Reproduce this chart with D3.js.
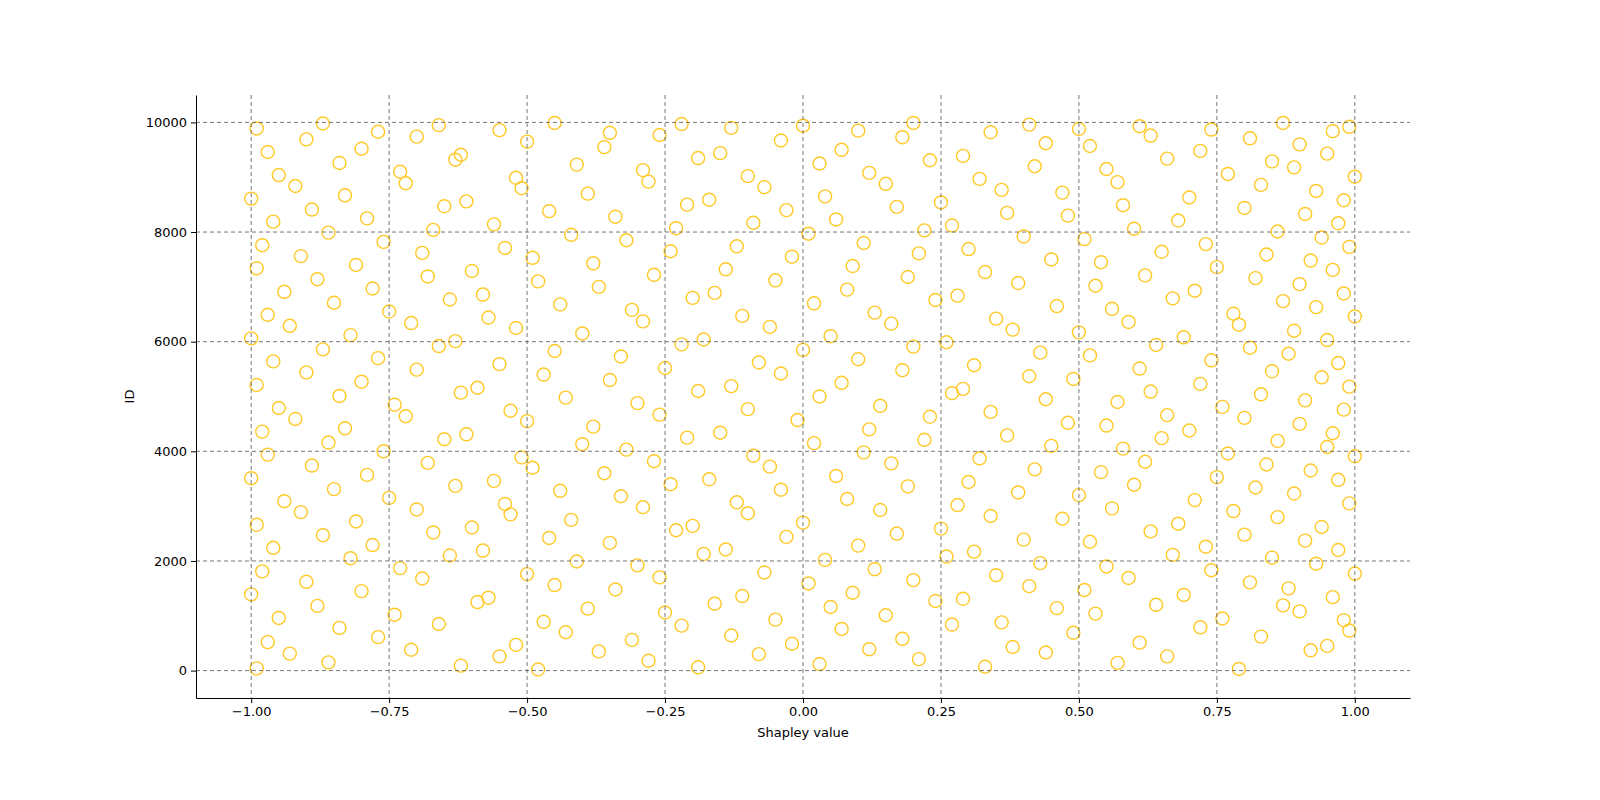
<!DOCTYPE html>
<html lang="en">
<head>
<meta charset="UTF-8">
<title>Shapley scatter</title>
<script src="https://cdn.jsdelivr.net/npm/d3@7"></script>
<style>
    html, body { margin: 0; background: #fff; overflow: hidden; }
    svg { display: block; }
    text { font-family: "DejaVu Sans", sans-serif; }
    .tick text { font-size: 13px; fill: #000; }
    .grid line { stroke: #555; stroke-dasharray: 4,3; stroke-width: 0.8; }
</style>
</head>
<body>
<div id="chart"></div>
<script>
// values estimated by eye from the reference (the original has far more points)
var shapleyValues = [
 -0.99,-0.93,-0.86,-0.71,-0.62,-0.55,-0.48,-0.37,-0.28,-0.19,-0.08,0.03,0.12,0.21,0.33,0.44,0.57,0.66,0.79,0.92,
 -0.97,-0.84,-0.77,-0.66,-0.52,-0.43,-0.31,-0.22,-0.13,-0.02,0.07,0.18,0.27,0.38,0.49,0.61,0.72,0.83,0.95,0.99,
 -0.95,-0.88,-0.74,-0.59,-0.47,-0.39,-0.25,-0.16,-0.05,0.05,0.15,0.24,0.36,0.46,0.53,0.64,0.76,0.87,0.9,0.98,
 -1.0,-0.9,-0.8,-0.69,-0.57,-0.45,-0.34,-0.26,-0.11,0.01,0.09,0.2,0.29,0.41,0.51,0.59,0.69,0.81,0.88,0.96,
 -0.98,-0.82,-0.73,-0.64,-0.5,-0.41,-0.3,-0.18,-0.07,0.04,0.13,0.26,0.35,0.43,0.55,0.67,0.74,0.85,0.93,1.0,
 -0.96,-0.87,-0.78,-0.67,-0.58,-0.46,-0.35,-0.23,-0.14,-0.03,0.1,0.17,0.31,0.4,0.52,0.63,0.73,0.8,0.91,0.97,
 -0.99,-0.91,-0.81,-0.7,-0.6,-0.53,-0.42,-0.29,-0.2,-0.1,0.0,0.14,0.25,0.34,0.47,0.56,0.68,0.78,0.86,0.94,
 -0.94,-0.85,-0.75,-0.63,-0.54,-0.44,-0.33,-0.24,-0.12,-0.04,0.08,0.19,0.28,0.39,0.5,0.6,0.71,0.82,0.89,0.99,
 -1.0,-0.89,-0.79,-0.68,-0.56,-0.49,-0.36,-0.27,-0.17,-0.06,0.06,0.16,0.3,0.42,0.54,0.62,0.75,0.84,0.92,0.97,
 -0.97,-0.86,-0.76,-0.65,-0.51,-0.4,-0.32,-0.21,-0.09,0.02,0.11,0.22,0.32,0.45,0.58,0.65,0.77,0.86,0.95,1.0,
 -0.98,-0.92,-0.83,-0.72,-0.61,-0.5,-0.38,-0.26,-0.15,-0.01,0.12,0.23,0.37,0.48,0.55,0.66,0.7,0.8,0.9,0.96,
 -0.95,-0.84,-0.74,-0.62,-0.53,-0.43,-0.3,-0.19,-0.1,0.03,0.14,0.27,0.34,0.44,0.57,0.63,0.76,0.83,0.91,0.98,
 -0.99,-0.9,-0.8,-0.7,-0.59,-0.47,-0.35,-0.25,-0.13,-0.04,0.07,0.18,0.29,0.41,0.49,0.61,0.72,0.85,0.94,0.99,
 -0.96,-0.87,-0.77,-0.66,-0.55,-0.45,-0.33,-0.22,-0.08,0.0,0.1,0.2,0.31,0.43,0.52,0.64,0.74,0.81,0.88,0.97,
 -1.0,-0.93,-0.82,-0.71,-0.63,-0.52,-0.4,-0.29,-0.18,-0.06,0.05,0.16,0.26,0.38,0.5,0.59,0.69,0.79,0.89,0.95,
 -0.97,-0.85,-0.75,-0.64,-0.57,-0.44,-0.31,-0.2,-0.11,0.02,0.13,0.24,0.35,0.46,0.56,0.67,0.78,0.87,0.93,1.0,
 -0.94,-0.88,-0.78,-0.68,-0.58,-0.48,-0.37,-0.27,-0.16,-0.05,0.08,0.19,0.28,0.39,0.53,0.62,0.71,0.82,0.9,0.98,
 -0.99,-0.91,-0.81,-0.69,-0.6,-0.49,-0.38,-0.24,-0.14,-0.02,0.09,0.21,0.33,0.45,0.54,0.65,0.75,0.84,0.92,0.96,
 -0.98,-0.86,-0.76,-0.67,-0.54,-0.42,-0.32,-0.23,-0.12,0.01,0.11,0.22,0.3,0.4,0.51,0.6,0.73,0.86,0.94,0.99,
 -0.96,-0.89,-0.79,-0.65,-0.56,-0.46,-0.34,-0.21,-0.09,-0.03,0.06,0.17,0.27,0.37,0.48,0.58,0.68,0.8,0.91,0.97,
 -1.0,-0.92,-0.83,-0.72,-0.61,-0.51,-0.39,-0.28,-0.17,-0.07,0.04,0.15,0.25,0.36,0.47,0.57,0.7,0.83,0.93,0.98,
 -0.95,-0.84,-0.73,-0.63,-0.52,-0.41,-0.29,-0.19,-0.1,0.03,0.12,0.23,0.32,0.42,0.55,0.66,0.77,0.85,0.89,1.0,
 -0.97,-0.9,-0.8,-0.7,-0.62,-0.5,-0.36,-0.26,-0.15,-0.04,0.07,0.18,0.29,0.44,0.52,0.63,0.72,0.81,0.9,0.95,
 -0.99,-0.87,-0.77,-0.66,-0.55,-0.45,-0.35,-0.22,-0.13,0.0,0.1,0.2,0.34,0.41,0.5,0.61,0.74,0.87,0.96,0.99
];
var ids = [
 40,310,150,380,90,260,20,350,180,60,300,120,390,210,70,330,140,260,30,370,
 520,780,610,850,470,700,560,820,640,490,760,580,840,430,690,510,790,620,450,730,
 960,1180,1020,1250,890,1130,1060,1220,930,1160,1010,1270,880,1140,1040,1200,950,1190,1080,920,
 1390,1620,1450,1680,1330,1560,1480,1700,1360,1590,1420,1650,1310,1540,1470,1690,1380,1610,1500,1340,
 1810,2050,1870,2100,1760,1990,1920,2130,1790,2020,1850,2080,1740,1960,1900,2110,1830,2060,1950,1770,
 2240,2470,2290,2520,2190,2420,2330,2560,2210,2440,2280,2500,2170,2390,2350,2540,2260,2480,2370,2200,
 2660,2890,2720,2940,2610,2850,2750,2980,2640,2870,2700,2930,2590,2820,2770,2960,2680,2910,2800,2620,
 3090,3310,3150,3370,3040,3280,3180,3400,3070,3300,3130,3360,3020,3250,3200,3390,3110,3340,3230,3050,
 3510,3740,3570,3790,3460,3700,3600,3820,3490,3720,3550,3780,3440,3670,3620,3810,3530,3760,3650,3480,
 3940,4160,4000,4220,3890,4130,4030,4250,3920,4150,3980,4210,3870,4100,4050,4240,3960,4190,4080,3910,
 4360,4590,4420,4640,4310,4550,4450,4670,4340,4570,4400,4630,4290,4520,4470,4660,4380,4610,4500,4330,
 4790,5010,4850,5070,4740,4980,4880,5100,4770,5000,4830,5060,4720,4950,4900,5090,4810,5040,4930,4760,
 5210,5440,5270,5490,5160,5400,5300,5520,5190,5420,5250,5480,5140,5370,5320,5510,5230,5460,5350,5180,
 5640,5860,5700,5920,5590,5830,5730,5950,5620,5850,5680,5910,5570,5800,5750,5940,5660,5890,5780,5610,
 6060,6290,6120,6340,6010,6250,6150,6370,6040,6270,6100,6330,5990,6220,6170,6360,6080,6310,6200,6030,
 6490,6710,6550,6770,6440,6680,6580,6800,6470,6700,6530,6760,6420,6650,6600,6790,6510,6740,6630,6460,
 6910,7140,6970,7190,6860,7100,7000,7220,6890,7120,6950,7180,6840,7070,7020,7210,6930,7160,7050,6880,
 7340,7560,7400,7620,7290,7530,7430,7650,7320,7550,7380,7610,7270,7500,7450,7640,7360,7590,7480,7310,
 7760,7990,7820,8040,7710,7950,7850,8070,7740,7970,7800,8030,7690,7920,7870,8060,7780,8010,7900,7730,
 8190,8410,8250,8470,8140,8380,8280,8500,8170,8400,8230,8460,8120,8350,8300,8490,8210,8440,8330,8160,
 8610,8840,8670,8890,8560,8800,8700,8920,8590,8820,8650,8880,8540,8770,8720,8910,8630,8860,8750,8580,
 9040,9260,9100,9320,8990,9230,9130,9350,9020,9250,9080,9310,8970,9200,9150,9340,9060,9290,9180,9010,
 9460,9690,9520,9740,9410,9650,9550,9770,9440,9670,9500,9730,9390,9620,9570,9760,9480,9710,9600,9430,
 9890,9980,9830,9950,9860,9990,9810,9970,9900,9940,9850,9990,9820,9960,9880,9930,9870,9990,9840,9920
];
var xTicks = [-1.0, -0.75, -0.5, -0.25, 0.0, 0.25, 0.5, 0.75, 1.0];
var yTicks = [0, 2000, 4000, 6000, 8000, 10000];

var n = Math.min(shapleyValues.length, ids.length);
var points = d3.range(n).map(function (i) { return {x: shapleyValues[i], y: ids[i]}; });

const margin = {top: 95, right: 190, bottom: 102, left: 196},
    width = 1600 - margin.left - margin.right,
    height = 800 - margin.top - margin.bottom;

const svg = d3.select("#chart").append("svg")
    .attr("width", 1600).attr("height", 800)
    .append("g")
    .attr("transform", "translate(" + margin.left + "," + margin.top + ")");

var x = d3.scaleLinear().domain([-1.1, 1.1]).range([0, width]);
var y = d3.scaleLinear().domain([-500, 10500]).range([height, 0]);

svg.selectAll("circle.pt")
    .data(points)
    .enter().append("circle")
    .attr("class", "pt")
    .attr("cx", function (d) { return x(d.x); })
    .attr("cy", function (d) { return y(d.y); })
    .attr("r", 6.5)
    .attr("fill", "none")
    .attr("stroke", "#ffc928")
    .attr("stroke-width", 1.4);

// grid drawn on top like the reference
svg.append("g").attr("class", "grid")
    .selectAll("line").data(xTicks).enter().append("line")
    .attr("x1", d => x(d)).attr("x2", d => x(d))
    .attr("y1", 0).attr("y2", height);
svg.append("g").attr("class", "grid")
    .selectAll("line").data(yTicks).enter().append("line")
    .attr("y1", d => y(d)).attr("y2", d => y(d))
    .attr("x1", 0).attr("x2", width);

svg.append("g")
    .attr("transform", "translate(0," + height + ")")
    .call(d3.axisBottom(x).tickValues(xTicks).tickSizeInner(5).tickSizeOuter(0).tickPadding(4))
    .call(g => g.selectAll("text").text(d => d3.format(".2f")(d).replace("-", "\u2212")));
svg.append("g")
    .call(d3.axisLeft(y).tickValues(yTicks).tickFormat(d3.format("d")).tickSizeInner(5).tickSizeOuter(0).tickPadding(4));
svg.selectAll(".domain").attr("stroke", "#000");

svg.append("text")
    .attr("x", width / 2).attr("y", height + 39)
    .style("text-anchor", "middle").style("font-size", "13px")
    .text("Shapley value");
svg.append("text")
    .attr("transform", "rotate(-90)")
    .attr("x", -height / 2).attr("y", -62)
    .style("text-anchor", "middle").style("font-size", "13px")
    .text("ID");
</script>
</body>
</html>
